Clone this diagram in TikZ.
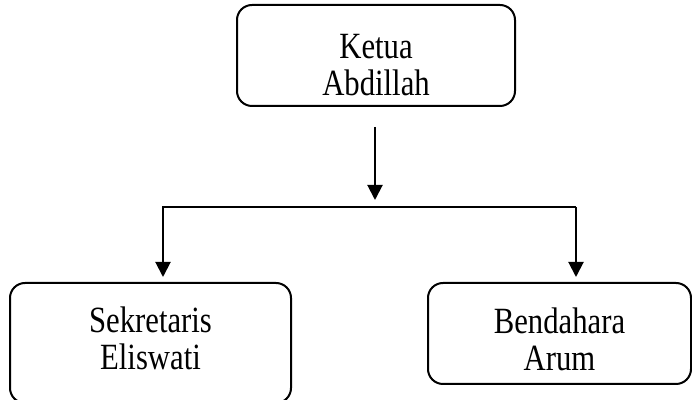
\documentclass[tikz,border=0pt]{standalone}
\usepackage{fontspec}
\setmainfont{Liberation Serif}[FakeStretch=0.83]
\usetikzlibrary{arrows.meta}
\newcommand{\isi}[3]{\raisebox{#1}[\height][\depth]{\begin{tabular}{@{}c@{}}#2\\#3\end{tabular}}}
\tikzset{
	jabatan/.style={draw, rounded corners=7.5pt, line width=1pt, inner sep=0pt, font=\fontsize{18.5}{18.5}\selectfont},
	panah/.style={line width=1pt, -{Triangle[length=7.5pt,width=7.5pt]}}
}
\begin{document}
\begin{tikzpicture}[x=0.5pt, y=-0.5pt]
	    \useasboundingbox (0,0) rectangle (692,400);
	    \node[jabatan, minimum width=139pt, minimum height=50.5pt] (ketua) at (376,55.5) {\isi{-7pt}{Ketua}{Abdillah}};
	    \node[jabatan, minimum width=140.5pt, minimum height=60pt] (sekretaris) at (150.5,343) {\isi{-0.5pt}{Sekretaris}{Eliswati}};
	    \node[jabatan, minimum width=131.5pt, minimum height=50.5pt] (bendahara) at (559.5,333.5) {\isi{-5.5pt}{Bendahara}{Arum}};
	    \coordinate (atas) at (375,127);
	    \coordinate (cabang) at (375,207);
	    \coordinate (kiri) at (163,207);
	    \coordinate (kanan) at (576,207);
	    \draw[panah, shorten >=3.5pt] (atas) -- (cabang);
	    \draw[panah, shorten >=2.5pt] (kanan) -- (kiri) -- (kiri |- sekretaris.north);
	    \draw[panah, shorten >=2.5pt] (kanan) -- (kanan |- bendahara.north);
	\end{tikzpicture}
\end{document}
